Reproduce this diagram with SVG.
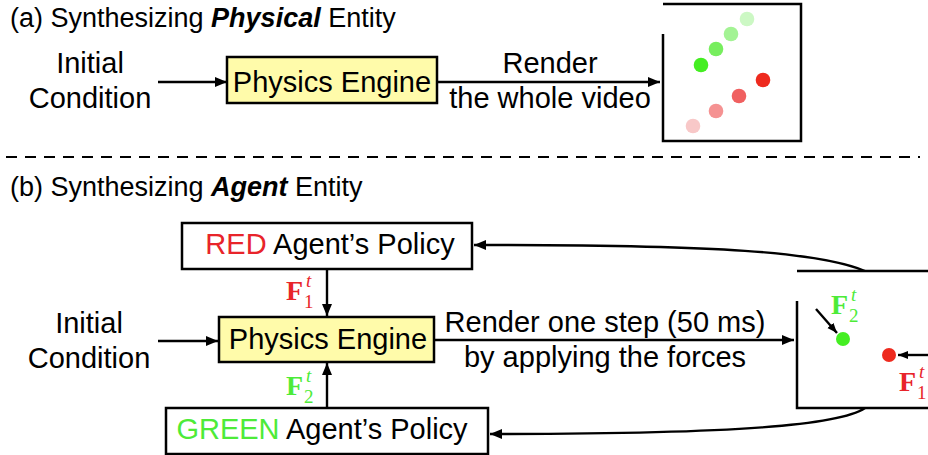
<svg xmlns="http://www.w3.org/2000/svg" width="928" height="455" viewBox="0 0 928 455">
<defs>
<marker id="ah" markerUnits="userSpaceOnUse" markerWidth="14" markerHeight="12" refX="12" refY="5" orient="auto"><path d="M0,0 L12,5 L0,10 z" fill="#000"/></marker>
<marker id="ahs" markerUnits="userSpaceOnUse" markerWidth="12" markerHeight="10" refX="10" refY="4" orient="auto"><path d="M0,0 L10,4 L0,8 z" fill="#000"/></marker>
<style>
text{font-family:"Liberation Sans",Arial,Helvetica,sans-serif;font-size:29px;fill:#000}
.t{font-size:27px}
.bi{font-weight:bold;font-style:italic}
.m{text-anchor:middle}
.box{stroke:#000;stroke-width:2.5}
.pe{fill:#FFFBAA}
.pol{fill:#fff}
.fr{fill:none;stroke:#000;stroke-width:2.5}
.c{fill:none;stroke:#000;stroke-width:2.4;marker-end:url(#ah)}
.cs{fill:none;stroke:#000;stroke-width:2.4;marker-end:url(#ahs)}
.F{font-family:"Liberation Serif","DejaVu Serif",serif;font-weight:bold;font-size:28px}
.sup{font-family:"Liberation Serif","DejaVu Serif",serif;font-style:italic;font-size:19px}
.sub{font-family:"Liberation Serif","DejaVu Serif",serif;font-size:19px}
.red{fill:#E8242A}
.grn{fill:#4DEB38}
</style>
</defs>

<!-- (a) -->
<text x="10" y="27" class="t">(a) Synthesizing <tspan class="bi">Physical</tspan> Entity</text>
<g id="a-initial"><text x="90" y="73" class="m">Initial</text><text x="90" y="108" class="m">Condition</text></g>
<g id="a-engine"><rect x="227" y="57" width="210" height="46" class="box pe"/><text x="332" y="92" class="m">Physics Engine</text></g>
<g id="a-video">
<polyline points="663,34 663,141 801,141 801,4 663,4" class="fr"/>
<circle cx="747" cy="19" r="7.3" fill="#CCF8C4"/>
<circle cx="731" cy="34" r="7.3" fill="#A3F394"/>
<circle cx="716" cy="49" r="7.3" fill="#77EE5E"/>
<circle cx="701" cy="65" r="7.3" fill="#44EE22"/>
<circle cx="763" cy="80" r="7.3" fill="#EE2A1E"/>
<circle cx="739" cy="96" r="7.3" fill="#F06060"/>
<circle cx="716" cy="111" r="7.3" fill="#F59292"/>
<circle cx="693" cy="126" r="7.3" fill="#F8C8C8"/>
</g>
<g id="a-labels"><text x="550" y="73" class="m">Render</text><text x="550" y="108" class="m">the whole video</text></g>

<line x1="6" y1="157" x2="920" y2="157" stroke="#000" stroke-width="2" stroke-dasharray="11 8"/>

<!-- (b) -->
<text x="10" y="196" class="t">(b) Synthesizing <tspan class="bi">Agent</tspan> Entity</text>
<g id="b-red"><rect x="182" y="223" width="290" height="46" class="box pol"/><text x="330" y="254" class="m"><tspan class="red">RED</tspan> Agent’s Policy</text></g>
<g id="b-initial"><text x="89" y="333" class="m">Initial</text><text x="89" y="368" class="m">Condition</text></g>
<g id="b-engine"><rect x="219" y="317" width="215" height="45" class="box pe"/><text x="328" y="349" class="m">Physics Engine</text></g>
<g id="b-green"><rect x="166" y="408" width="322" height="46" class="box pol"/><text x="322" y="439" class="m"><tspan class="grn">GREEN</tspan> Agent’s Policy</text></g>
<g id="b-frame">
<polyline points="928,271 797,271" class="fr"/>
<polyline points="797,301 797,408 928,408" class="fr"/>
<circle cx="843" cy="339" r="7" fill="#44EE22"/>
<circle cx="889" cy="355" r="7" fill="#EE2A1E"/>
<text x="831" y="314" class="F grn">F</text><text x="851" y="301" class="sup grn">t</text><text x="849" y="322" class="sub grn">2</text>
<text x="899" y="391" class="F red">F</text><text x="919" y="378" class="sup red">t</text><text x="917" y="399" class="sub red">1</text>
</g>
<g id="b-labels">
<text x="605" y="332" class="m">Render one step (50 ms)</text><text x="605" y="367" class="m">by applying the forces</text>
<text x="286" y="300" class="F red">F</text><text x="306" y="287" class="sup red">t</text><text x="304" y="308" class="sub red">1</text>
<text x="286" y="395" class="F grn">F</text><text x="306" y="382" class="sup grn">t</text><text x="304" y="403" class="sub grn">2</text>
</g>

<g id="connectors">
<line x1="158" y1="82" x2="227" y2="82" class="c"/>
<line x1="437" y1="82" x2="660" y2="82" class="c"/>
<line x1="158" y1="341" x2="218" y2="341" class="c"/>
<line x1="434" y1="340" x2="794" y2="340" class="c"/>
<line x1="327" y1="269" x2="327" y2="316" class="c"/>
<line x1="327" y1="408" x2="327" y2="363" class="c"/>
<path d="M865,271 C820,252 720,245 474,245" class="c"/>
<path d="M865,408 C840,425 740,434 490,434" class="c"/>
<line x1="816" y1="309" x2="837" y2="333" class="cs"/>
<line x1="928" y1="355" x2="898" y2="355" class="cs"/>
</g>
</svg>
